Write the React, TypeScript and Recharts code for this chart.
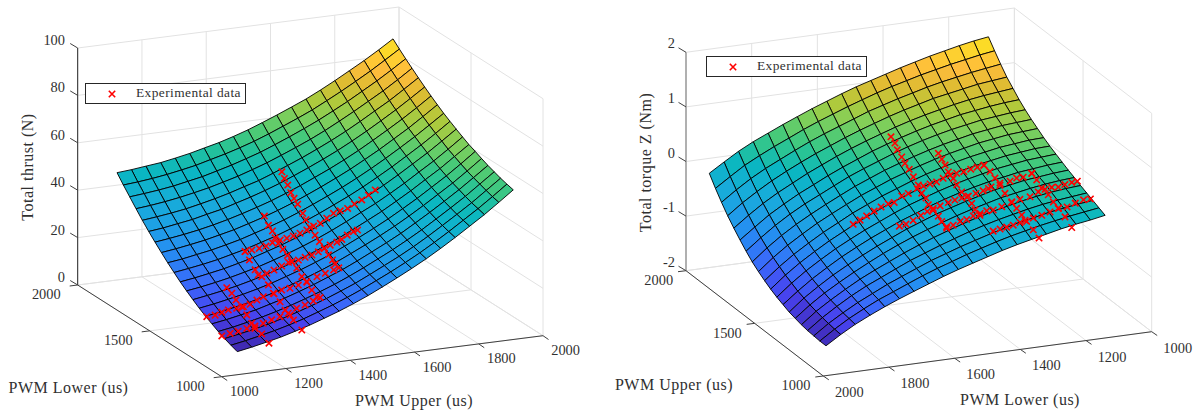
import React from "react";
import { ScatterChart, Scatter, XAxis, YAxis, Legend } from "recharts";

type Pair = [number, number];
type Mark = { x: number; y: number; [key: string]: any };

const SERIF = "'Liberation Serif', 'DejaVu Serif', serif";
const TEXT_COLOR = "#303030";
const GRID_COLOR = "#e2e2e2";
const LEGEND_NAME = "Experimental data";

// parula as it looks in the picture: position, r, g, b
const PARULA = [
  [0, 62, 38, 168], [0.08, 72, 66, 238], [0.16, 58, 105, 250], [0.25, 38, 140, 242],
  [0.33, 30, 160, 230], [0.42, 22, 174, 215], [0.5, 10, 182, 195], [0.57, 35, 194, 155],
  [0.63, 72, 202, 120], [0.7, 128, 207, 90], [0.76, 175, 202, 60], [0.83, 222, 188, 50],
  [0.89, 254, 188, 60], [0.95, 253, 212, 45], [1, 249, 232, 30],
];

const Z_TICKS_THRUST = [0, 20, 40, 60, 80, 100];
const Z_TICKS_TORQUE = [-2, -1, 0, 1, 2];
const UPPER_TICKS_THRUST = [1000, 1200, 1400, 1600, 1800, 2000];
const LOWER_TICKS_THRUST = [1000, 1500, 2000];
const LOWER_TICKS_TORQUE = [2000, 1800, 1600, 1400, 1200, 1000];
const UPPER_TICKS_TORQUE = [1000, 1500, 2000];

const THRUST_UPPER = [1100, 1145, 1190, 1236, 1281, 1326, 1371, 1417, 1462, 1507, 1552, 1597, 1643, 1688, 1733, 1778, 1823, 1869, 1914, 1959];
const THRUST_LOWER = [1115, 1159, 1203, 1247, 1291, 1335, 1379, 1423, 1467, 1511, 1554, 1598, 1642, 1686, 1730, 1774, 1818, 1862, 1906, 1950];
// one row per lower value, one column per upper value
const THRUST_Z = [
  [4.4, 5.5, 6.8, 8.2, 9.9, 11.7, 13.8, 16.0, 18.4, 21.0, 23.9, 26.9, 30.1, 33.4, 37.0, 40.8, 44.8, 48.9, 53.3, 57.8],
  [5.4, 6.5, 7.8, 9.2, 10.8, 12.6, 14.7, 16.9, 19.3, 21.9, 24.8, 27.7, 30.9, 34.2, 37.8, 41.6, 45.6, 49.7, 54.0, 58.5],
  [6.5, 7.6, 8.8, 10.2, 11.9, 13.7, 15.7, 17.9, 20.3, 22.8, 25.7, 28.7, 31.8, 35.1, 38.7, 42.5, 46.4, 50.5, 54.9, 59.3],
  [7.8, 8.8, 10.1, 11.5, 13.1, 14.9, 16.9, 19.1, 21.4, 24.0, 26.8, 29.8, 32.9, 36.2, 39.7, 43.5, 47.4, 51.5, 55.9, 60.3],
  [9.3, 10.3, 11.5, 12.8, 14.5, 16.2, 18.2, 20.4, 22.8, 25.2, 28.0, 31.0, 34.1, 37.3, 40.9, 44.6, 48.5, 52.6, 56.9, 61.3],
  [10.8, 11.8, 13.0, 14.3, 15.9, 17.6, 19.7, 21.8, 24.1, 26.6, 29.4, 32.3, 35.4, 38.6, 42.1, 45.8, 49.7, 53.7, 58.0, 62.5],
  [12.5, 13.5, 14.7, 16.0, 17.5, 19.2, 21.2, 23.3, 25.6, 28.0, 30.8, 33.7, 36.8, 40.0, 43.5, 47.1, 51.0, 55.0, 59.3, 63.8],
  [14.4, 15.4, 16.5, 17.8, 19.3, 21.0, 22.9, 25.0, 27.2, 29.7, 32.4, 35.3, 38.4, 41.5, 45.0, 48.6, 52.5, 56.4, 60.7, 65.0],
  [16.4, 17.3, 18.4, 19.7, 21.2, 22.8, 24.7, 26.8, 29.0, 31.4, 34.1, 37.0, 40.1, 43.1, 46.5, 50.1, 54.0, 57.9, 62.1, 66.5],
  [18.5, 19.4, 20.5, 21.7, 23.2, 24.8, 26.7, 28.7, 30.9, 33.3, 36.0, 38.8, 41.8, 44.9, 48.3, 51.9, 55.7, 59.6, 63.8, 68.1],
  [20.8, 21.7, 22.7, 23.9, 25.4, 26.9, 28.8, 30.7, 32.9, 35.3, 37.9, 40.7, 43.6, 46.7, 50.1, 53.6, 57.4, 61.3, 65.4, 69.7],
  [23.2, 24.0, 25.1, 26.2, 27.6, 29.1, 31.0, 32.9, 35.0, 37.4, 40.0, 42.7, 45.6, 48.7, 52.0, 55.5, 59.2, 63.1, 67.2, 71.4],
  [25.8, 26.6, 27.6, 28.7, 30.1, 31.5, 33.3, 35.2, 37.3, 39.6, 42.2, 44.9, 47.8, 50.8, 54.1, 57.5, 61.2, 65.0, 69.1, 73.3],
  [28.5, 29.3, 30.2, 31.3, 32.6, 34.1, 35.8, 37.7, 39.7, 42.0, 44.5, 47.2, 50.0, 53.0, 56.2, 59.7, 63.3, 67.1, 71.1, 75.3],
  [31.3, 32.0, 33.0, 34.0, 35.4, 36.7, 38.5, 40.3, 42.3, 44.5, 47.0, 49.6, 52.4, 55.3, 58.5, 61.9, 65.5, 69.3, 73.3, 77.4],
  [34.3, 35.0, 35.8, 36.8, 38.1, 39.5, 41.1, 43.0, 44.8, 47.1, 49.6, 52.1, 54.9, 57.8, 60.9, 64.3, 67.9, 71.5, 75.5, 79.6],
  [37.5, 38.1, 38.9, 39.9, 41.1, 42.4, 44.0, 45.7, 47.7, 49.8, 52.2, 54.7, 57.4, 60.3, 63.5, 66.8, 70.3, 73.9, 77.8, 81.9],
  [40.8, 41.4, 42.1, 43.0, 44.2, 45.4, 47.0, 48.7, 50.6, 52.6, 55.0, 57.5, 60.2, 63.0, 66.1, 69.3, 72.8, 76.4, 80.2, 84.2],
  [44.1, 44.6, 45.3, 46.2, 47.3, 48.5, 50.1, 51.7, 53.5, 55.5, 57.8, 60.3, 62.9, 65.6, 68.7, 71.9, 75.3, 78.9, 82.7, 86.6],
  [47.6, 48.1, 48.8, 49.5, 50.6, 51.8, 53.3, 54.8, 56.6, 58.6, 60.9, 63.3, 65.9, 68.5, 71.5, 74.7, 78.1, 81.6, 85.3, 89.2],
];

const TORQUE_LOWER = [1950, 1905, 1861, 1816, 1771, 1726, 1682, 1637, 1592, 1547, 1503, 1458, 1413, 1368, 1324, 1279, 1234, 1189, 1145, 1100];
const TORQUE_UPPER = [1100, 1145, 1189, 1234, 1279, 1324, 1368, 1413, 1458, 1503, 1547, 1592, 1637, 1682, 1726, 1771, 1816, 1861, 1905, 1950];
// one row per upper value, one column per lower value
const TORQUE_Z = [
  [-1.68, -1.51, -1.36, -1.23, -1.11, -1.0, -0.9, -0.8, -0.7, -0.61, -0.53, -0.45, -0.37, -0.3, -0.24, -0.18, -0.12, -0.07, -0.03, 0.02],
  [-1.68, -1.5, -1.34, -1.2, -1.07, -0.96, -0.85, -0.74, -0.64, -0.55, -0.46, -0.38, -0.3, -0.23, -0.17, -0.11, -0.06, -0.01, 0.03, 0.07],
  [-1.67, -1.48, -1.32, -1.17, -1.04, -0.91, -0.8, -0.69, -0.58, -0.49, -0.4, -0.32, -0.24, -0.17, -0.1, -0.05, 0.01, 0.05, 0.09, 0.12],
  [-1.66, -1.46, -1.29, -1.13, -0.99, -0.87, -0.75, -0.63, -0.53, -0.43, -0.34, -0.25, -0.17, -0.1, -0.04, 0.02, 0.07, 0.11, 0.14, 0.17],
  [-1.64, -1.43, -1.26, -1.1, -0.95, -0.82, -0.7, -0.58, -0.47, -0.37, -0.28, -0.19, -0.11, -0.04, 0.02, 0.08, 0.13, 0.17, 0.2, 0.22],
  [-1.61, -1.4, -1.22, -1.06, -0.91, -0.77, -0.64, -0.52, -0.41, -0.31, -0.22, -0.13, -0.05, 0.02, 0.09, 0.14, 0.19, 0.23, 0.26, 0.28],
  [-1.58, -1.36, -1.18, -1.01, -0.86, -0.72, -0.59, -0.47, -0.35, -0.25, -0.15, -0.07, 0.01, 0.08, 0.15, 0.2, 0.25, 0.28, 0.31, 0.33],
  [-1.53, -1.32, -1.13, -0.96, -0.8, -0.66, -0.53, -0.41, -0.29, -0.19, -0.09, 0, 0.08, 0.15, 0.21, 0.26, 0.31, 0.34, 0.37, 0.39],
  [-1.48, -1.26, -1.07, -0.9, -0.74, -0.6, -0.47, -0.35, -0.23, -0.12, -0.03, 0.06, 0.14, 0.21, 0.27, 0.33, 0.37, 0.41, 0.43, 0.45],
  [-1.42, -1.2, -1.01, -0.84, -0.68, -0.54, -0.4, -0.28, -0.16, -0.06, 0.04, 0.13, 0.21, 0.28, 0.34, 0.39, 0.44, 0.47, 0.5, 0.51],
  [-1.35, -1.13, -0.94, -0.77, -0.61, -0.47, -0.33, -0.21, -0.09, 0.01, 0.11, 0.2, 0.28, 0.35, 0.41, 0.46, 0.51, 0.54, 0.57, 0.58],
  [-1.27, -1.05, -0.86, -0.69, -0.53, -0.39, -0.26, -0.13, -0.02, 0.09, 0.18, 0.27, 0.35, 0.42, 0.48, 0.54, 0.58, 0.62, 0.64, 0.66],
  [-1.18, -0.96, -0.77, -0.6, -0.45, -0.31, -0.18, -0.05, 0.06, 0.17, 0.26, 0.35, 0.43, 0.5, 0.56, 0.62, 0.66, 0.7, 0.72, 0.74],
  [-1.07, -0.86, -0.67, -0.5, -0.35, -0.22, -0.09, 0.04, 0.15, 0.25, 0.35, 0.44, 0.52, 0.59, 0.65, 0.7, 0.75, 0.78, 0.81, 0.83],
  [-0.95, -0.75, -0.56, -0.4, -0.25, -0.12, 0.01, 0.13, 0.24, 0.35, 0.44, 0.53, 0.61, 0.68, 0.74, 0.8, 0.84, 0.88, 0.91, 0.93],
  [-0.82, -0.62, -0.44, -0.28, -0.14, 0, 0.12, 0.24, 0.35, 0.45, 0.54, 0.63, 0.71, 0.78, 0.84, 0.9, 0.95, 0.99, 1.02, 1.05],
  [-0.68, -0.48, -0.31, -0.15, -0.01, 0.12, 0.24, 0.35, 0.46, 0.56, 0.65, 0.74, 0.82, 0.89, 0.96, 1.01, 1.06, 1.11, 1.14, 1.17],
  [-0.52, -0.33, -0.16, -0.01, 0.12, 0.25, 0.37, 0.48, 0.58, 0.68, 0.78, 0.86, 0.94, 1.01, 1.08, 1.14, 1.19, 1.24, 1.28, 1.32],
  [-0.35, -0.17, 0, 0.14, 0.27, 0.39, 0.51, 0.62, 0.72, 0.82, 0.91, 1.0, 1.08, 1.15, 1.22, 1.28, 1.34, 1.39, 1.44, 1.48],
  [-0.16, 0.01, 0.17, 0.31, 0.43, 0.55, 0.66, 0.77, 0.87, 0.97, 1.06, 1.14, 1.22, 1.3, 1.37, 1.44, 1.5, 1.56, 1.61, 1.65],
];

// experimental sweeps, thrust: [upper, thrust] at a fixed lower
const THRUST_AT_LOWER_1500: Pair[] = [[1297, 28.3], [1318, 28.6], [1341, 28.9], [1362, 29.5], [1382, 30.6], [1406, 31.3], [1427, 31.7], [1447, 32.3], [1468, 33.1], [1489, 34.1], [1510, 35.4], [1531, 36.2], [1551, 38], [1572, 39.7], [1593, 40.4], [1616, 41], [1637, 42.5], [1660, 43.8], [1681, 45.5], [1702, 47.3]];
const THRUST_AT_LOWER_1400: Pair[] = [[1293, 22.4], [1320, 22.6], [1342, 23.6], [1366, 24.9], [1387, 26.1], [1397, 26.2], [1418, 26.5], [1439, 27.3], [1460, 27.9], [1480, 28.9], [1498, 30], [1517, 31.1], [1538, 32], [1553, 32.9], [1570, 34.4], [1589, 35.5], [1602, 36]];
const THRUST_AT_LOWER_1300: Pair[] = [[1088, 12.2], [1114, 12.4], [1135, 13.2], [1155, 13.9], [1181, 14.1], [1202, 14.4], [1223, 15.1], [1244, 16.5], [1264, 17.6], [1295, 18.5], [1321, 19.4], [1347, 19.7], [1373, 20.6], [1399, 21.6], [1431, 23.1], [1457, 24.1], [1483, 25.1], [1499, 25.7]];
const THRUST_AT_LOWER_1200: Pair[] = [[1090, 7.9], [1116, 8.5], [1141, 9], [1168, 9.7], [1193, 10.3], [1219, 11], [1245, 12], [1271, 12.9], [1297, 13.9], [1323, 15.6], [1349, 16.5], [1375, 17.7], [1396, 18.8]];
// [lower, thrust] at a fixed upper
const THRUST_AT_UPPER_1500: Pair[] = [[1698, 50.8], [1680, 48.7], [1657, 46.8], [1636, 44.4], [1613, 42.9], [1588, 41.4], [1553, 38.9], [1530, 37.1], [1502, 35], [1467, 33], [1437, 31.4], [1402, 30], [1374, 28.3], [1346, 27.2], [1328, 26.2]];
const THRUST_AT_UPPER_1400: Pair[] = [[1596, 37.8], [1568, 35], [1540, 33.7], [1522, 31.5], [1499, 30], [1468, 28.7], [1436, 27.4], [1406, 25.9], [1371, 24.5], [1336, 22.3], [1301, 21.3], [1267, 19.3], [1232, 17.8]];
const THRUST_AT_UPPER_1300: Pair[] = [[1507, 28], [1477, 25.6], [1437, 23], [1391, 21.9], [1345, 20.2], [1306, 18], [1264, 16.2], [1229, 14], [1194, 13.3], [1171, 12.1], [1113, 10.1]];
const THRUST_AT_UPPER_1200: Pair[] = [[1411, 18.2], [1376, 17.2], [1347, 15.5], [1307, 14.2], [1272, 12.1], [1238, 9.9], [1215, 8.6], [1168, 8.1], [1118, 6.1]];

// experimental sweeps, torque: [lower, torque] at a fixed upper
const TORQUE_AT_UPPER_1500: Pair[] = [[1700, -0.43], [1679, -0.37], [1659, -0.31], [1636, -0.24], [1615, -0.18], [1593, -0.14], [1575, -0.13], [1552, -0.03], [1532, 0], [1505, 0.07], [1486, 0.1], [1466, 0.12], [1446, 0.14], [1426, 0.19], [1405, 0.23], [1385, 0.25], [1363, 0.26], [1342, 0.29], [1322, 0.31], [1302, 0.33]];
const TORQUE_AT_UPPER_1400: Pair[] = [[1601, -0.35], [1581, -0.33], [1559, -0.28], [1536, -0.21], [1516, -0.15], [1498, -0.11], [1477, -0.08], [1452, -0.04], [1432, -0.01], [1411, 0.01], [1391, 0.03], [1368, 0.06], [1346, 0.09], [1330, 0.12], [1322, 0.14], [1295, 0.19], [1264, 0.2], [1244, 0.24], [1224, 0.24], [1198, 0.29]];
const TORQUE_AT_UPPER_1300: Pair[] = [[1499, -0.25], [1479, -0.24], [1458, -0.19], [1438, -0.17], [1418, -0.12], [1397, -0.09], [1377, -0.06], [1357, -0.06], [1331, -0.02], [1301, 0.03], [1276, 0.07], [1245, 0.09], [1220, 0.16], [1199, 0.19], [1179, 0.21], [1159, 0.2], [1139, 0.23], [1118, 0.25], [1101, 0.26]];
const TORQUE_AT_UPPER_1200: Pair[] = [[1399, -0.22], [1378, -0.2], [1358, -0.18], [1338, -0.16], [1317, -0.13], [1302, -0.1], [1277, -0.08], [1251, -0.05], [1226, -0.01], [1200, 0.04], [1174, 0.04], [1149, 0.09], [1124, 0.13], [1103, 0.13]];
// [upper, torque] at a fixed lower
const TORQUE_AT_LOWER_1500: Pair[] = [[1703, 0.62], [1674, 0.56], [1657, 0.47], [1625, 0.4], [1601, 0.33], [1570, 0.28], [1540, 0.2], [1504, 0.12], [1479, 0.02], [1448, -0.01], [1431, -0.1], [1395, -0.13], [1358, -0.17], [1333, -0.22], [1297, -0.27]];
const TORQUE_AT_LOWER_1400: Pair[] = [[1597, 0.44], [1572, 0.38], [1548, 0.32], [1524, 0.24], [1488, 0.19], [1463, 0.12], [1427, 0.06], [1390, 0.04], [1354, -0.01], [1330, -0.08], [1294, -0.11]];
const TORQUE_AT_LOWER_1300: Pair[] = [[1504, 0.32], [1460, 0.29], [1424, 0.24], [1387, 0.18], [1351, 0.1], [1302, 0.04], [1266, -0.01], [1229, -0.06], [1193, -0.11], [1145, -0.17], [1103, -0.24]];
const TORQUE_AT_LOWER_1200: Pair[] = [[1395, 0.3], [1359, 0.25], [1323, 0.17], [1275, 0.14], [1238, 0.08], [1202, 0.03], [1153, -0.03], [1104, -0.13]];

const thrustPoints = [
  ...THRUST_AT_LOWER_1500.map(([u, z]) => [u, 1500, z]),
  ...THRUST_AT_LOWER_1400.map(([u, z]) => [u, 1400, z]),
  ...THRUST_AT_LOWER_1300.map(([u, z]) => [u, 1300, z]),
  ...THRUST_AT_LOWER_1200.map(([u, z]) => [u, 1200, z]),
  ...THRUST_AT_UPPER_1500.map(([l, z]) => [1500, l, z]),
  ...THRUST_AT_UPPER_1400.map(([l, z]) => [1400, l, z]),
  ...THRUST_AT_UPPER_1300.map(([l, z]) => [1300, l, z]),
  ...THRUST_AT_UPPER_1200.map(([l, z]) => [1200, l, z]),
];

const torquePoints = [
  ...TORQUE_AT_UPPER_1500.map(([l, z]) => [l, 1500, z]),
  ...TORQUE_AT_UPPER_1400.map(([l, z]) => [l, 1400, z]),
  ...TORQUE_AT_UPPER_1300.map(([l, z]) => [l, 1300, z]),
  ...TORQUE_AT_UPPER_1200.map(([l, z]) => [l, 1200, z]),
  ...TORQUE_AT_LOWER_1500.map(([u, z]) => [1500, u, z]),
  ...TORQUE_AT_LOWER_1400.map(([u, z]) => [1400, u, z]),
  ...TORQUE_AT_LOWER_1300.map(([u, z]) => [1300, u, z]),
  ...TORQUE_AT_LOWER_1200.map(([u, z]) => [1200, u, z]),
];

function parula(t: number) {
  const v = Math.min(Math.max(t, 0), 1);
  let i = 0;
  while (i < PARULA.length - 2 && PARULA[i + 1][0] < v) i++;
  const a = PARULA[i];
  const b = PARULA[i + 1];
  const f = (v - a[0]) / (b[0] - a[0]);
  const c = [1, 2, 3].map((n) => Math.round(a[n] + (b[n] - a[n]) * f));
  return `rgb(${c[0]},${c[1]},${c[2]})`;
}

const NoPoint = () => null;

// recharts has no 3D, so each face is a scatter point carrying its own corners.
// the axes below are 1:1 with pixels, so corners are drawn relative to cx, cy.
function Face(props: any) {
  const { cx, cy, payload } = props;
  const d = payload.corners
    .map((c: Mark, i: number) => `${i ? "L" : "M"}${cx + c.x - payload.x} ${cy + c.y - payload.y}`)
    .join("");
  return <path d={d + "Z"} fill={payload.fill} stroke="#000" strokeWidth={0.9} strokeLinejoin="round" />;
}

function RedCross(props: any) {
  const { cx, cy } = props;
  return (
    <path
      d={`M${cx - 3.2} ${cy - 3.2}L${cx + 3.2} ${cy + 3.2}M${cx - 3.2} ${cy + 3.2}L${cx + 3.2} ${cy - 3.2}`}
      stroke="#ff0000"
      strokeWidth={1.6}
      fill="none"
    />
  );
}

function AxisText(props: any) {
  const { cx, cy, payload } = props;
  return (
    <text
      x={cx}
      y={cy}
      textAnchor={payload.anchor || "middle"}
      dominantBaseline="central"
      fontFamily={SERIF}
      fontSize={payload.size || 14.4}
      letterSpacing={payload.spacing || 0}
      fill={TEXT_COLOR}
      transform={payload.rotate ? `rotate(${payload.rotate} ${cx} ${cy})` : undefined}
    >
      {payload.text}
    </text>
  );
}

function LegendBox() {
  return (
    <div
      style={{
        boxSizing: "border-box",
        width: 161,
        height: 21,
        border: "1px solid #262626",
        background: "#fff",
        position: "relative",
        fontFamily: SERIF,
        fontSize: 13.4,
        letterSpacing: 0.42,
        color: TEXT_COLOR,
      }}
    >
      <svg width={12} height={12} style={{ position: "absolute", left: 19.5, top: 3.5 }}>
        <RedCross cx={6} cy={6} />
      </svg>
      <span style={{ position: "absolute", left: 50, top: 1, whiteSpace: "nowrap" }}>{LEGEND_NAME}</span>
    </div>
  );
}

type PanelProps = {
  left: number;
  width: number;
  origin: Pair;
  colVec: Pair;
  rowVec: Pair;
  zPx: number;
  colStart: number;
  colEnd: number;
  colValues: number[];
  rowValues: number[];
  zRows: number[][];
  points: number[][];
  zTicks: number[];
  colTicks: number[];
  rowTicks: number[];
  zTitle: string;
  colTitle: string;
  rowTitle: string;
  zTitlePos: Pair;
  colTitlePos: Pair;
  rowTitlePos: Pair;
  zLabelX: number;
  zLabelDy: number;
  colLabelOffset: Pair;
  rowLabelOffset: Pair;
  legendPos: Pair;
  zAxisStroke: string;
  zAxisWidth: number;
};

function SurfacePanel(p: PanelProps) {
  const rowStart = 1000;
  const rowEnd = 2000;
  const zMin = p.zTicks[0];
  const zMax = p.zTicks[p.zTicks.length - 1];

  const project = (col: number, row: number, z: number): Mark => {
    const a = (col - p.colStart) / (p.colEnd - p.colStart);
    const b = (row - rowStart) / (rowEnd - rowStart);
    return {
      x: p.origin[0] + p.colVec[0] * a + p.rowVec[0] * b,
      y: p.origin[1] + p.colVec[1] * a + p.rowVec[1] * b - p.zPx * (z - zMin),
    };
  };

  const all = p.zRows.flat();
  const lo = Math.min(...all);
  const hi = Math.max(...all);
  const faces: any[] = [];
  for (let j = p.rowValues.length - 2; j >= 0; j--) {
    for (let k = p.colValues.length - 2; k >= 0; k--) {
      const zs = [p.zRows[j][k], p.zRows[j][k + 1], p.zRows[j + 1][k + 1], p.zRows[j + 1][k]];
      const corners = [
        project(p.colValues[k], p.rowValues[j], zs[0]),
        project(p.colValues[k + 1], p.rowValues[j], zs[1]),
        project(p.colValues[k + 1], p.rowValues[j + 1], zs[2]),
        project(p.colValues[k], p.rowValues[j + 1], zs[3]),
      ];
      const mean = (zs[0] + zs[1] + zs[2] + zs[3]) / 4;
      faces.push({ ...corners[0], corners, fill: parula((mean - lo) / (hi - lo)) });
    }
  }

  const grid: Mark[][] = [];
  p.colTicks.forEach((c) => {
    grid.push([project(c, rowStart, zMin), project(c, rowEnd, zMin)]);
    grid.push([project(c, rowEnd, zMin), project(c, rowEnd, zMax)]);
  });
  p.rowTicks.forEach((r) => {
    grid.push([project(p.colStart, r, zMin), project(p.colEnd, r, zMin)]);
    grid.push([project(p.colEnd, r, zMin), project(p.colEnd, r, zMax)]);
  });
  p.zTicks.forEach((z) => {
    grid.push([project(p.colStart, rowEnd, z), project(p.colEnd, rowEnd, z)]);
    grid.push([project(p.colEnd, rowEnd, z), project(p.colEnd, rowStart, z)]);
  });

  const front = project(p.colStart, rowStart, zMin);
  const edges: Mark[][] = [
    [front, project(p.colEnd, rowStart, zMin)],
    [front, project(p.colStart, rowEnd, zMin)],
  ];
  const stub = (m: Mark, dx: number, dy: number): Mark[] => [m, { x: m.x + dx, y: m.y + dy }];
  p.colTicks.forEach((c) => edges.push(stub(project(c, rowStart, zMin), 5.5, 3.8)));
  p.rowTicks.forEach((r) => edges.push(stub(project(p.colStart, r, zMin), -8, 1)));
  p.zTicks.forEach((z) => edges.push(stub(project(p.colStart, rowEnd, z), -7.5, -4.5)));

  const labels: any[] = [];
  p.zTicks.forEach((z) => {
    const m = project(p.colStart, rowEnd, z);
    labels.push({ x: p.zLabelX, y: m.y + p.zLabelDy, text: String(z), anchor: "end" });
  });
  p.colTicks.forEach((c) => {
    const m = project(c, rowStart, zMin);
    labels.push({ x: m.x + p.colLabelOffset[0], y: m.y + p.colLabelOffset[1], text: String(c) });
  });
  p.rowTicks.forEach((r) => {
    const m = project(p.colStart, r, zMin);
    labels.push({ x: m.x + p.rowLabelOffset[0], y: m.y + p.rowLabelOffset[1], text: String(r) });
  });
  labels.push({ x: p.zTitlePos[0], y: p.zTitlePos[1], text: p.zTitle, rotate: -90, size: 16, spacing: 0.5 });
  labels.push({ x: p.colTitlePos[0], y: p.colTitlePos[1], text: p.colTitle, size: 16, spacing: 0.5 });
  labels.push({ x: p.rowTitlePos[0], y: p.rowTitlePos[1], text: p.rowTitle, size: 16, spacing: 0.5 });

  const crosses = p.points.map(([c, r, z]) => project(c, r, z));

  return (
    <div style={{ position: "absolute", left: p.left, top: 0 }}>
      <ScatterChart width={p.width} height={413} margin={{ top: 0, right: 0, bottom: 0, left: 0 }}>
        <XAxis type="number" dataKey="x" domain={[p.left, p.left + p.width]} hide />
        <YAxis type="number" dataKey="y" domain={[0, 413]} reversed hide />
        {grid.map((seg, i) => (
          <Scatter
            key={`g${i}`}
            data={seg}
            line={{ stroke: GRID_COLOR, strokeWidth: 1 }}
            shape={NoPoint}
            isAnimationActive={false}
          />
        ))}
        <Scatter
          data={[project(p.colStart, rowEnd, zMin), project(p.colStart, rowEnd, zMax)]}
          line={{ stroke: p.zAxisStroke, strokeWidth: p.zAxisWidth }}
          shape={NoPoint}
          isAnimationActive={false}
        />
        {edges.map((seg, i) => (
          <Scatter
            key={`e${i}`}
            data={seg}
            line={{ stroke: "#404040", strokeWidth: 1 }}
            shape={NoPoint}
            isAnimationActive={false}
          />
        ))}
        <Scatter data={faces} shape={Face} isAnimationActive={false} />
        <Scatter name={LEGEND_NAME} data={crosses} shape={RedCross} isAnimationActive={false} />
        <Scatter data={labels} shape={AxisText} isAnimationActive={false} />
        <Legend
          layout="horizontal"
          verticalAlign="middle"
          content={LegendBox}
          wrapperStyle={{
            left: p.legendPos[0] - p.left,
            top: p.legendPos[1],
            width: 161,
            height: 21,
            bottom: "auto",
            right: "auto",
          }}
        />
      </ScatterChart>
    </div>
  );
}

export default function App() {
  return (
    <div style={{ position: "absolute", left: 0, top: 0, width: 1197, height: 413, background: "#fff" }}>
      <SurfacePanel
        left={0}
        width={598}
        origin={[221.7, 376.7]}
        colVec={[321.3, -41]}
        rowVec={[-144, -91.7]}
        zPx={2.37}
        colStart={1000}
        colEnd={2000}
        colValues={THRUST_UPPER}
        rowValues={THRUST_LOWER}
        zRows={THRUST_Z}
        points={thrustPoints}
        zTicks={Z_TICKS_THRUST}
        colTicks={UPPER_TICKS_THRUST}
        rowTicks={LOWER_TICKS_THRUST}
        zTitle="Total thrust (N)"
        colTitle="PWM Upper (us)"
        rowTitle="PWM Lower (us)"
        zTitlePos={[27, 167]}
        colTitlePos={[414, 400]}
        rowTitlePos={[68.5, 387]}
        zLabelX={65}
        zLabelDy={-8}
        colLabelOffset={[22.6, 14.5]}
        rowLabelOffset={[-31.4, 9]}
        legendPos={[85, 83]}
        zAxisStroke="#262626"
        zAxisWidth={1}
      />
      <SurfacePanel
        left={598}
        width={599}
        origin={[823.3, 376]}
        colVec={[328.4, -44.3]}
        rowVec={[-137.3, -105.3]}
        zPx={54.6}
        colStart={2000}
        colEnd={1000}
        colValues={TORQUE_LOWER}
        rowValues={TORQUE_UPPER}
        zRows={TORQUE_Z}
        points={torquePoints}
        zTicks={Z_TICKS_TORQUE}
        colTicks={LOWER_TICKS_TORQUE}
        rowTicks={UPPER_TICKS_TORQUE}
        zTitle="Total torque Z (Nm)"
        colTitle="PWM Lower (us)"
        rowTitle="PWM Upper (us)"
        zTitlePos={[645, 162.5]}
        colTitlePos={[1020, 399]}
        rowTitlePos={[674, 384]}
        zLabelX={675}
        zLabelDy={-9}
        colLabelOffset={[26, 16]}
        rowLabelOffset={[-27.3, 9.3]}
        legendPos={[706, 56]}
        zAxisStroke="#a0a0a0"
        zAxisWidth={1.6}
      />
    </div>
  );
}
